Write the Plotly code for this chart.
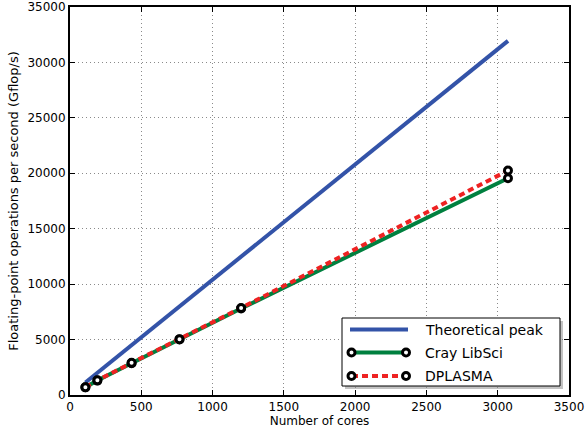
import plotly.graph_objects as go

# Cores used in each run and measured performance (Gflop/s)
cores = [108, 192, 432, 768, 1200, 3072]
libsci_gflops = [690, 1300, 2860, 5000, 7800, 19550]
dplasma_gflops = [700, 1320, 2900, 5040, 7850, 20250]
peak_gflops = [1123, 1997, 4493, 7987, 12480, 31949]

x_ticks = [0, 500, 1000, 1500, 2000, 2500, 3000, 3500]
y_ticks = [0, 5000, 10000, 15000, 20000, 25000, 30000, 35000]

BLUE = "#3353A8"
GREEN = "#00803F"
RED = "#EE2222"
FONT = "DejaVu Sans"

W, H = 585, 429
L, R, T, B = 70, 16, 7, 34
PW, PH = W - L - R, H - T - B


def px(x):
    return (x - L) / PW


def py(y):
    return (H - B - y) / PH


marker = dict(symbol="circle", size=7, color="white", line=dict(color="black", width=3))

fig = go.Figure()
fig.add_trace(go.Scatter(x=cores, y=peak_gflops, mode="lines",
                         line=dict(color=BLUE, width=4), name="Theoretical peak"))
fig.add_trace(go.Scatter(x=cores, y=libsci_gflops, mode="lines+markers",
                         line=dict(color=GREEN, width=4), marker=marker, name="Cray LibSci"))
fig.add_trace(go.Scatter(x=cores, y=dplasma_gflops, mode="lines+markers",
                         line=dict(color=RED, width=4, dash="6px,4px"), marker=marker,
                         name="DPLASMA"))

axis_common = dict(
    showline=True, linecolor="black", linewidth=2, mirror="ticks",
    ticks="inside", ticklen=5, tickwidth=1, tickcolor="black",
    showgrid=True, gridcolor="#8a8a8a", griddash="1px,3px", gridwidth=1,
    zeroline=False, tickfont=dict(family=FONT, size=12, color="black"),
    ticklabeloverflow="allow", automargin=False,
)

fig.update_xaxes(range=[0, 3500], tickvals=x_ticks, ticktext=[str(v) for v in x_ticks],
                 title=dict(text="Number of cores", font=dict(family=FONT, size=12, color="black"),
                            standoff=3),
                 **axis_common)
fig.update_yaxes(range=[0, 35000], tickvals=y_ticks, ticktext=[str(v) for v in y_ticks],
                 title=dict(text="Floating-point operations per second (Gflop/s)",
                            font=dict(family=FONT, size=13, color="black"), standoff=6),
                 **axis_common)

# Legend box with a drop shadow
shapes = []
bx0, bx1, by0, by1 = 342, 560, 318, 386
shapes.append(dict(type="rect", xref="paper", yref="paper",
                   x0=px(bx0 + 3), x1=px(bx1 + 3), y0=py(by1 + 3), y1=py(by0 + 3),
                   fillcolor="#888888", line=dict(width=0), opacity=0.5))
shapes.append(dict(type="rect", xref="paper", yref="paper",
                   x0=px(bx0), x1=px(bx1), y0=py(by1), y1=py(by0),
                   fillcolor="white", line=dict(color="black", width=1)))

rows = [("Theoretical peak", BLUE, None, False, 329.5),
        ("Cray LibSci", GREEN, None, True, 352.5),
        ("DPLASMA", RED, "dash", True, 376)]
annotations = []
for label, color, dash, has_marker, yy in rows:
    if dash:
        xs = 352
        while xs < 406:
            xe = min(xs + 6, 406)
            shapes.append(dict(type="line", xref="paper", yref="paper",
                               x0=px(xs), x1=px(xe), y0=py(yy), y1=py(yy),
                               line=dict(color=color, width=4)))
            xs += 10
    else:
        shapes.append(dict(type="line", xref="paper", yref="paper",
                           x0=px(350), x1=px(408), y0=py(yy), y1=py(yy),
                           line=dict(color=color, width=4)))
    if has_marker:
        for cx in (351.5, 406):
            r = 3.5
            shapes.append(dict(type="circle", xref="paper", yref="paper",
                               x0=px(cx - r), x1=px(cx + r), y0=py(yy + r), y1=py(yy - r),
                               fillcolor="white", line=dict(color="black", width=3)))
    annotations.append(dict(text=label, xref="paper", yref="paper", x=px(423), y=py(yy),
                            xanchor="left", yanchor="middle", showarrow=False,
                            font=dict(family=FONT, size=14, color="black")))

fig.update_layout(
    width=W, height=H,
    margin=dict(l=L, r=R, t=T, b=B),
    paper_bgcolor="white", plot_bgcolor="white",
    showlegend=False,
    shapes=shapes, annotations=annotations,
    font=dict(family=FONT, color="black"),
)

fig.write_html("out.html")
